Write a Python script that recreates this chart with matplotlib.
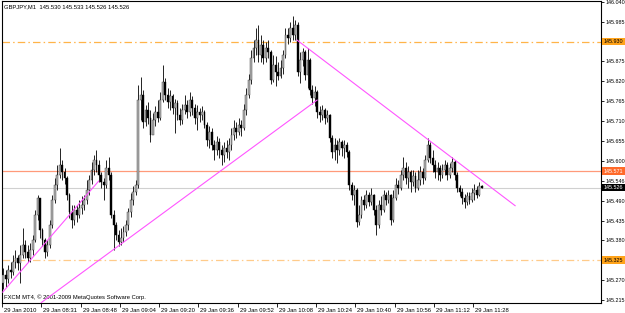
import matplotlib
matplotlib.use("Agg")
import matplotlib.pyplot as plt
import numpy as np

plt.rcParams['font.family'] = ['Liberation Sans', 'DejaVu Sans']

# ---------------- data ----------------
first_open = 145.262
closes = [145.284, 145.273, 145.298, 145.292, 145.320, 145.331, 145.318, 145.339,
          145.367, 145.347, 145.331, 145.353, 145.381, 145.450, 145.497, 145.409,
          145.381, 145.347, 145.367, 145.422, 145.492, 145.533, 145.561, 145.588,
          145.569, 145.553, 145.505, 145.458, 145.436, 145.464, 145.450, 145.470,
          145.478, 145.492, 145.519, 145.547, 145.575, 145.602, 145.588, 145.561,
          145.541, 145.533, 145.580, 145.561, 145.450, 145.422, 145.395, 145.375,
          145.387, 145.403, 145.422, 145.458, 145.492, 145.513, 145.533, 145.768,
          145.782, 145.707, 145.741, 145.719, 145.671, 145.713, 145.735, 145.719,
          145.768, 145.818, 145.782, 145.762, 145.779, 145.746, 145.760, 145.727,
          145.713, 145.741, 145.754, 145.735, 145.768, 145.746, 145.719, 145.735,
          145.727, 145.735, 145.699, 145.658, 145.679, 145.644, 145.630, 145.652,
          145.630, 145.616, 145.636, 145.624, 145.644, 145.671, 145.691, 145.679,
          145.699, 145.691, 145.741, 145.782, 145.824, 145.885, 145.912, 145.934,
          145.893, 145.920, 145.885, 145.912, 145.901, 145.824, 145.865, 145.845,
          145.834, 145.857, 145.893, 145.948, 145.940, 145.968, 145.948, 145.976,
          145.845, 145.879, 145.901, 145.837, 145.879, 145.796, 145.774, 145.790,
          145.735, 145.727, 145.741, 145.719, 145.727, 145.663, 145.624, 145.644,
          145.630, 145.652, 145.636, 145.644, 145.624, 145.533, 145.505, 145.519,
          145.430, 145.450, 145.492, 145.478, 145.505, 145.486, 145.505, 145.464,
          145.422, 145.478, 145.464, 145.505, 145.492, 145.505, 145.436, 145.497,
          145.533, 145.525, 145.561, 145.580, 145.553, 145.569, 145.541, 145.558,
          145.525, 145.547, 145.569, 145.553, 145.602, 145.644, 145.608, 145.588,
          145.569, 145.580, 145.561, 145.575, 145.588, 145.561, 145.580, 145.596,
          145.561, 145.525, 145.513, 145.497, 145.486, 145.502, 145.492, 145.511,
          145.519, 145.505, 145.530, 145.526]
highs = [145.304, 145.298, 145.312, 145.320, 145.339, 145.353, 145.339, 145.367,
         145.414, 145.381, 145.367, 145.373, 145.395, 145.464, 145.505, 145.492,
         145.414, 145.387, 145.381, 145.436, 145.505, 145.553, 145.588, 145.636,
         145.602, 145.580, 145.558, 145.511, 145.478, 145.478, 145.478, 145.492,
         145.502, 145.505, 145.547, 145.561, 145.596, 145.616, 145.630, 145.602,
         145.569, 145.553, 145.602, 145.611, 145.569, 145.464, 145.430, 145.409,
         145.414, 145.419, 145.436, 145.470, 145.511, 145.530, 145.547, 145.810,
         145.832, 145.796, 145.754, 145.762, 145.741, 145.733, 145.751, 145.768,
         145.790, 145.865, 145.829, 145.802, 145.796, 145.785, 145.771, 145.768,
         145.746, 145.757, 145.782, 145.768, 145.790, 145.779, 145.757, 145.754,
         145.746, 145.751, 145.741, 145.707, 145.696, 145.691, 145.658, 145.668,
         145.663, 145.644, 145.652, 145.658, 145.663, 145.691, 145.713, 145.707,
         145.719, 145.713, 145.757, 145.802, 145.840, 145.907, 145.934, 145.968,
         145.976, 145.948, 145.934, 145.928, 145.934, 145.907, 145.893, 145.890,
         145.873, 145.879, 145.907, 145.968, 145.968, 145.984, 146.000, 145.990,
         145.984, 145.901, 145.912, 145.907, 145.912, 145.885, 145.810, 145.807,
         145.796, 145.751, 145.754, 145.746, 145.741, 145.730, 145.671, 145.663,
         145.658, 145.663, 145.658, 145.658, 145.652, 145.630, 145.541, 145.533,
         145.525, 145.478, 145.502, 145.505, 145.519, 145.513, 145.525, 145.508,
         145.478, 145.492, 145.502, 145.519, 145.513, 145.519, 145.508, 145.519,
         145.553, 145.547, 145.575, 145.611, 145.596, 145.585, 145.575, 145.575,
         145.569, 145.575, 145.585, 145.580, 145.616, 145.663, 145.652, 145.630,
         145.602, 145.596, 145.588, 145.591, 145.602, 145.596, 145.594, 145.611,
         145.602, 145.569, 145.533, 145.525, 145.508, 145.513, 145.513, 145.525,
         145.536, 145.530, 145.541, 145.533]
lows = [145.245, 145.251, 145.262, 145.276, 145.284, 145.304, 145.298, 145.262,
        145.331, 145.331, 145.320, 145.320, 145.339, 145.375, 145.436, 145.387,
        145.364, 145.331, 145.336, 145.359, 145.414, 145.484, 145.519, 145.553,
        145.547, 145.536, 145.492, 145.442, 145.414, 145.422, 145.430, 145.442,
        145.453, 145.464, 145.481, 145.505, 145.536, 145.561, 145.569, 145.541,
        145.525, 145.492, 145.525, 145.547, 145.442, 145.353, 145.381, 145.364,
        145.367, 145.375, 145.392, 145.409, 145.445, 145.478, 145.505, 145.525,
        145.713, 145.691, 145.696, 145.702, 145.652, 145.679, 145.696, 145.707,
        145.713, 145.762, 145.768, 145.746, 145.741, 145.730, 145.677, 145.713,
        145.699, 145.702, 145.730, 145.719, 145.724, 145.727, 145.702, 145.685,
        145.707, 145.713, 145.691, 145.641, 145.636, 145.630, 145.602, 145.616,
        145.608, 145.588, 145.596, 145.608, 145.602, 145.630, 145.658, 145.663,
        145.671, 145.668, 145.685, 145.727, 145.774, 145.813, 145.873, 145.893,
        145.873, 145.873, 145.868, 145.873, 145.885, 145.813, 145.818, 145.807,
        145.824, 145.829, 145.840, 145.885, 145.923, 145.928, 145.934, 145.934,
        145.834, 145.816, 145.862, 145.824, 145.802, 145.782, 145.757, 145.751,
        145.719, 145.707, 145.713, 145.702, 145.707, 145.652, 145.608, 145.602,
        145.594, 145.616, 145.613, 145.608, 145.611, 145.519, 145.492, 145.478,
        145.417, 145.422, 145.442, 145.464, 145.470, 145.475, 145.478, 145.450,
        145.395, 145.414, 145.450, 145.458, 145.478, 145.484, 145.422, 145.430,
        145.492, 145.508, 145.519, 145.547, 145.536, 145.525, 145.513, 145.530,
        145.513, 145.519, 145.533, 145.536, 145.547, 145.596, 145.594, 145.569,
        145.553, 145.547, 145.544, 145.553, 145.561, 145.547, 145.553, 145.569,
        145.547, 145.513, 145.502, 145.481, 145.470, 145.478, 145.481, 145.486,
        145.492, 145.497, 145.502, 145.526]
opens = [first_open] + closes[:-1]
opens[-1] = 145.530

# horizontal levels
level_top = 145.930
level_res = 145.571
level_bid = 145.526
level_bot = 145.325

# trend lines (bar index, price)
trend1 = ([-0.2, 38.9], [145.237, 145.544])
trend2 = ([15.5, 127.9], [145.208, 145.768])
trend3 = ([119.7, 208.6], [145.934, 145.476])

ytick_vals = [145.215, 145.270, 145.325, 145.380, 145.435, 145.490, 145.545, 145.600,
              145.655, 145.710, 145.765, 145.820, 145.875, 145.930, 145.985, 146.040]
ytick_labels = ["145.215", "145.270", "", "145.380", "145.435", "145.490", "145.546", "145.600",
                "145.655", "145.710", "145.765", "145.820", "145.875", "", "145.985", "146.040"]
xtick_bars = [0, 16, 32, 48, 64, 80, 96, 112, 128, 144, 160, 176, 192]
xtick_labels = ["29 Jan 2010", "29 Jan 08:31", "29 Jan 08:48", "29 Jan 09:04", "29 Jan 09:20",
                "29 Jan 09:36", "29 Jan 09:52", "29 Jan 10:08", "29 Jan 10:24", "29 Jan 10:40",
                "29 Jan 10:56", "29 Jan 11:12", "29 Jan 11:28"]

title_text = "GBPJPY,M1  145.530 145.533 145.526 145.526"
copyright_text = "FXCM MT4, \u00a9 2001-2009 MetaQuotes Software Corp."

# ---------------- plot ----------------
W, H = 625, 313
fig = plt.figure(figsize=(W / 100, H / 100), dpi=100)
fig.patch.set_facecolor('white')
ax = fig.add_axes([2 / W, 1 - 302.7 / H, 599 / W, 301.7 / H])
ax.set_facecolor('white')

n = len(closes)
idx = np.arange(n)
o = np.array(opens); c = np.array(closes); h = np.array(highs); l = np.array(lows)

# horizontal lines
ax.axhline(level_top, color='#FFB449', lw=0.9, ls=(0, (6, 2.5, 1.2, 2.5)), zorder=1)
ax.axhline(level_bot, color='#FFCB8A', lw=0.9, ls=(0, (6, 2.5, 1.2, 2.5)), zorder=1)
ax.axhline(level_res, color='#FF9A7A', lw=0.9, zorder=1)
ax.axhline(level_bid, color='#D0D0D0', lw=0.8, zorder=1)

# candles
ax.vlines(idx, l, h, color='black', lw=0.6, zorder=3)
up = c >= o
bottoms = np.minimum(o, c)
heights = np.maximum(np.abs(c - o), 0.0015)
ax.bar(idx[up], heights[up], bottom=bottoms[up], width=0.75,
       color='#B4B4B4', edgecolor='#303030', linewidth=0.3, zorder=4)
ax.bar(idx[~up], heights[~up], bottom=bottoms[~up], width=0.75,
       color='black', edgecolor='black', linewidth=0.3, zorder=4)

# trend lines
for tx, ty in (trend1, trend2, trend3):
    ax.plot(tx, ty, color='#FF55FF', lw=0.8, zorder=5)

ax.set_xlim(-0.2, 243.6)
ax.set_ylim(145.2077, 146.042)

for s in ax.spines.values():
    s.set_color('black')
    s.set_linewidth(0.8)

ax.yaxis.tick_right()
ax.set_yticks(ytick_vals)
ax.set_yticklabels(ytick_labels)
ax.tick_params(axis='y', direction='out', length=2.2, width=0.6, pad=0.8, labelsize=3.9)
ax.set_xticks([b - 0.5 for b in xtick_bars])
ax.set_xticklabels([])
ax.tick_params(axis='x', direction='out', length=3, width=0.6)
for b, lab in zip(xtick_bars, xtick_labels):
    ax.annotate(lab, xy=(b - 0.5, 0), xycoords=('data', 'axes fraction'),
                xytext=(1.5, -5.3), textcoords='offset points', ha='left', va='center',
                fontsize=4.2, annotation_clip=False)

# price boxes on the right axis
def price_box(val, text, fc, tc):
    ax.annotate(text, xy=(1.0, val), xycoords=('axes fraction', 'data'),
                xytext=(2.0, 0), textcoords='offset points', ha='left', va='center',
                fontsize=3.9, color=tc, annotation_clip=False, zorder=10,
                bbox=dict(boxstyle='square,pad=0.25', fc=fc, ec='none'))

price_box(level_top, "145.930", '#FFA31A', 'black')
price_box(level_res, "145.571", '#FF6A2A', 'white')
price_box(level_bid, "145.526", 'black', 'white')
price_box(level_bot, "145.325", '#FFA31A', 'black')

ax.text(0.004, 0.982, title_text, transform=ax.transAxes, fontsize=4.2,
        ha='left', va='center', color='black')
ax.text(0.003, 0.018, copyright_text, transform=ax.transAxes, fontsize=4.2,
        ha='left', va='center', color='black')

fig.savefig('out.png', dpi=100, facecolor='white')
